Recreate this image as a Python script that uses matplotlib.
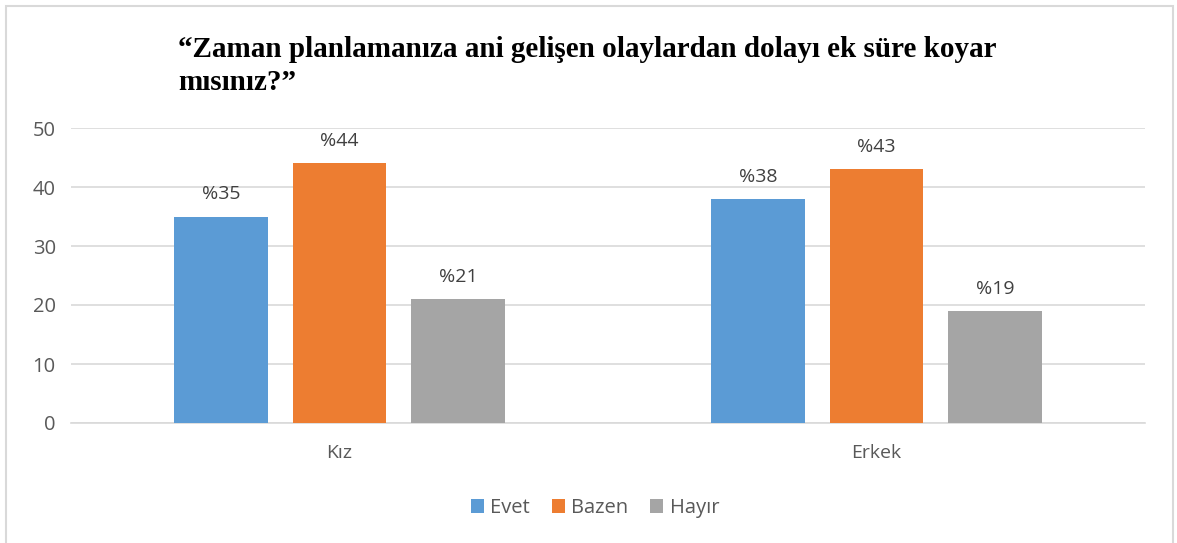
import numpy as np
import matplotlib
matplotlib.use("Agg")
import matplotlib.pyplot as plt
from matplotlib.patches import Rectangle

categories = ["Kız", "Erkek"]
series = ["Evet", "Bazen", "Hayır"]
evet = [35, 38]
bazen = [44, 43]
hayir = [21, 19]
colors = ["#5B9BD5", "#ED7D31", "#A5A5A5"]
title = "“Zaman planlamanıza ani gelişen olaylardan dolayı ek süre koyar\nmısınız?”"

W, H = 1177, 543
fig = plt.figure(figsize=(W / 100, H / 100), dpi=100)
plt.rcParams["font.family"] = ["Open Sans", "DejaVu Sans"]

# outer chart border (light gray, bottom edge cut off like the screenshot)
fig.patches.append(Rectangle((6 / W, -0.05), (1173 - 6) / W, 1.05 - 6 / H,
                             transform=fig.transFigure, fill=False,
                             edgecolor="#D9D9D9", lw=1.5))

ax = fig.add_axes([71 / W, 1 - 423 / H, (1145 - 71) / W, (423 - 128) / H])
x = np.arange(len(categories))
width = 0.175
offsets = [-0.2207, 0.0, 0.2207]
for vals, name, col, off in zip([evet, bazen, hayir], series, colors, offsets):
    bars = ax.bar(x + off, vals, width, color=col, label=name, zorder=3)
    for b, v in zip(bars, vals):
        ax.text(b.get_x() + b.get_width() / 2, v + 2.9, f"%{v}",
                ha="center", va="baseline", fontsize=14, color="#404040")

ax.set_xlim(-0.5, 1.5)
ax.set_ylim(0, 50)
ax.set_yticks(range(0, 51, 10))
ax.set_xticks(x)
ax.set_xticklabels(categories)
ax.yaxis.grid(True, color="#D9D9D9", lw=1.2, zorder=0)
ax.tick_params(axis="both", length=0, labelsize=14.5, colors="#595959")
ax.tick_params(axis="x", pad=15, labelsize=14)
ax.tick_params(axis="y", pad=11)
for s in ["left", "right", "top"]:
    ax.spines[s].set_visible(False)
ax.spines["bottom"].set_color("#D9D9D9")
ax.spines["bottom"].set_linewidth(1.2)

fig.text(178 / W, 1 - 66 / H, title, ha="left", va="center",
         fontsize=21, fontweight="bold", family="Liberation Serif",
         linespacing=1.3, color="black")

fig.legend(loc="center", bbox_to_anchor=(595 / W, 1 - 508 / H), ncol=3,
           frameon=False, fontsize=14.5, handlelength=0.65, handleheight=0.65,
           handletextpad=0.3, columnspacing=1.1, labelcolor="#595959")

fig.savefig("out.png", dpi=100)
